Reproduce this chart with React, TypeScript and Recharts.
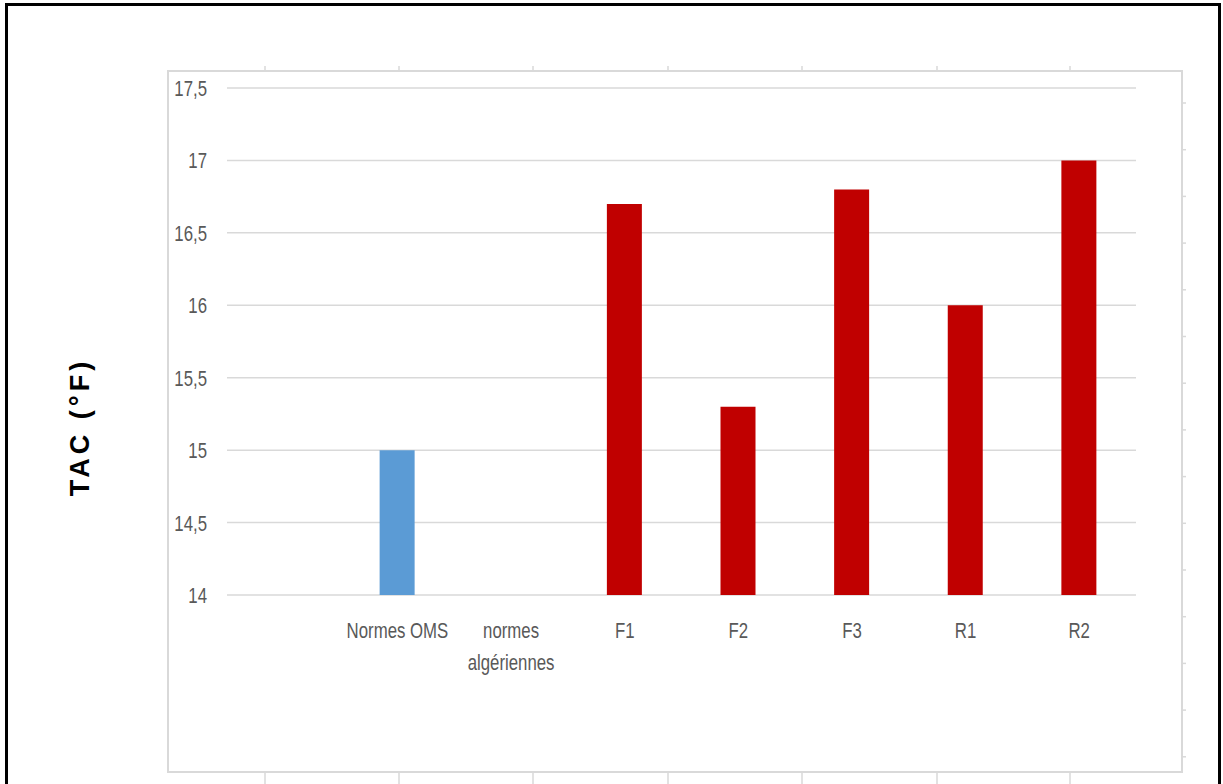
import React from "react";
import { BarChart, Bar, XAxis, YAxis, CartesianGrid, Cell } from "recharts";

const categories = ["", "Normes OMS", "normes algériennes", "F1", "F2", "F3", "R1", "R2"];
const tacValues = [null, 15, null, 16.7, 15.3, 16.8, 16, 17];
const yTicks = [14, 14.5, 15, 15.5, 16, 16.5, 17, 17.5];
const normCategories = ["Normes OMS", "normes algériennes"];

const normColor = "#5B9BD5";
const sampleColor = "#C00000";
const textGray = "#595959";
const gridGray = "#D9D9D9";
const tickFont = "'Liberation Sans', Arial, sans-serif";
// the source text is a condensed, tall face; squeeze a regular one to match
const squeeze = "scale(0.84,1.12)";

const data = categories.map((name, i) => ({ name, value: tacValues[i] }));

// word wrap like Excel does for the long category names
function wrap(label: string): string[] {
  if (label.length <= 11) return [label];
  return label.split(" ");
}

function CategoryTick(props: any) {
  const { x, y, payload } = props;
  const lines = wrap(String(payload.value));
  return (
    <g>
      {lines.map((line, i) => (
        <g key={i} transform={`translate(${x},${y + 43 + i * 32}) ${squeeze}`}>
          <text x={0} y={0} textAnchor="middle" fill={textGray} fontSize={20} fontFamily={tickFont}>
            {line}
          </text>
        </g>
      ))}
    </g>
  );
}

function ValueTick(props: any) {
  const { x, y, payload } = props;
  return (
    <g transform={`translate(${x},${y + 8}) ${squeeze}`}>
      <text x={0} y={0} textAnchor="end" fill={textGray} fontSize={20} fontFamily={tickFont}>
        {String(payload.value).replace(".", ",")}
      </text>
    </g>
  );
}

function Frame() {
  const topTicks = [265, 399, 533, 668, 802, 937, 1070];
  const rightTicks = Array.from({ length: 15 }, (_, k) => 103 + k * 46.7);
  return (
    <svg width={1223} height={784} style={{ position: "absolute", left: 0, top: 0 }}>
      <rect x={6.5} y={4.5} width={1213} height={800} fill="#fff" stroke="#000" strokeWidth={3} />
      <rect x={168} y={71} width={1014} height={701} fill="none" stroke={gridGray} strokeWidth={2} />
      {topTicks.map((tx) => (
        <g key={tx}>
          <line x1={tx} x2={tx} y1={66} y2={71} stroke={gridGray} strokeWidth={1.5} />
          <line x1={tx} x2={tx} y1={772} y2={784} stroke={gridGray} strokeWidth={1.5} />
        </g>
      ))}
      {rightTicks.map((ty) => (
        <line key={ty} x1={1182} x2={1186} y1={ty} y2={ty} stroke={gridGray} strokeWidth={1.5} />
      ))}
      <text
        transform="translate(89,427) rotate(-90)"
        textAnchor="middle"
        fontFamily="'Liberation Sans', Arial, sans-serif"
        fontWeight="bold"
        fontSize={27}
        letterSpacing={4}
        fill="#000"
      >
        TAC (°F)
      </text>
    </svg>
  );
}

export default function App() {
  return (
    <div style={{ position: "fixed", left: 0, top: 0, width: 1223, height: 784, overflow: "hidden", background: "#fff" }}>
      <Frame />
      <div style={{ position: "absolute", left: 0, top: 0 }}>
        <BarChart
          width={1223}
          height={784}
          data={data}
          margin={{ top: 88, right: 87, bottom: 159, left: 167 }}
        >
          <CartesianGrid vertical={false} stroke={gridGray} strokeWidth={1.5} />
          <XAxis
            dataKey="name"
            axisLine={false}
            tickLine={false}
            tickSize={0}
            tickMargin={0}
            height={30}
            interval={0}
            tick={<CategoryTick />}
          />
          <YAxis
            domain={[14, 17.5]}
            ticks={yTicks}
            width={60}
            axisLine={false}
            tickLine={false}
            tickSize={0}
            tickMargin={20}
            tick={<ValueTick />}
          />
          <Bar dataKey="value" barSize={35} isAnimationActive={false}>
            {data.map((d) => (
              <Cell key={d.name} fill={normCategories.includes(d.name) ? normColor : sampleColor} />
            ))}
          </Bar>
        </BarChart>
      </div>
    </div>
  );
}
